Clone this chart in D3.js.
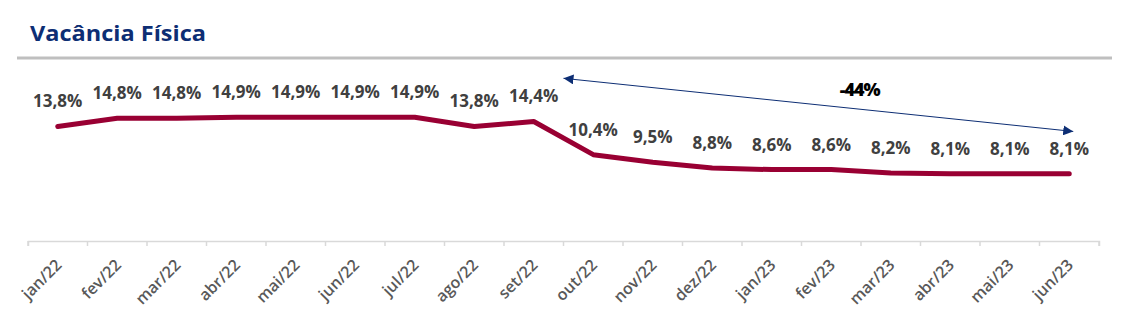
<!DOCTYPE html>
<html lang="pt-BR">
<head>
<meta charset="utf-8">
<script src="https://cdn.jsdelivr.net/npm/d3@7/dist/d3.min.js"></script>
<style>
  html, body { margin: 0; padding: 0; background: #ffffff; }
  svg { display: block; }
</style>
</head>
<body>
<svg id="chart" width="1122" height="323"></svg>
<script>
// Monthly physical vacancy rate (%)
const months = ["jan/22","fev/22","mar/22","abr/22","mai/22","jun/22","jul/22","ago/22","set/22",
                "out/22","nov/22","dez/22","jan/23","fev/23","mar/23","abr/23","mai/23","jun/23"];
const vacancy = [13.8, 14.8, 14.8, 14.9, 14.9, 14.9, 14.9, 13.8, 14.4,
                 10.4, 9.5, 8.8, 8.6, 8.6, 8.2, 8.1, 8.1, 8.1];

// Variation callout between set/22 and jun/23
const changeLabel = "-44%";
const arrowStart = { month: "out/22", value: 19.6 };
const arrowEnd   = { month: "jun/23", value: 13.2 };
const changeAnchor = { month: "mar/23", value: 18.3 };

const svg = d3.select("#chart");

const x = d3.scaleBand().domain(months).range([28, 1099]).paddingInner(0).paddingOuter(0);
const y = d3.scaleLinear().domain([0, 20]).range([241, 75]);
const cx = m => x(m) + x.bandwidth() / 2;

// Title
svg.append("text")
  .attr("x", 30).attr("y", 41)
  .attr("font-family", "'Open Sans', sans-serif")
  .attr("font-weight", 700)
  .attr("font-size", 22)
  .attr("fill", "#0d2e74")
  .attr("textLength", 176)
  .attr("lengthAdjust", "spacingAndGlyphs")
  .text("Vacância Física");

// Separator under the title
svg.append("line")
  .attr("x1", 17).attr("x2", 1112)
  .attr("y1", 58).attr("y2", 58)
  .attr("stroke", "#bfbfbf").attr("stroke-width", 3);

// X axis
const xAxis = d3.axisBottom(x).tickSizeInner(5).tickSizeOuter(5).tickFormat(d => d);
const gx = svg.append("g").attr("transform", "translate(0,241)").call(xAxis);
gx.select(".domain").attr("stroke", "#d9d9d9").attr("stroke-width", 1.5);
gx.selectAll(".tick line")
  .attr("stroke", "#d9d9d9").attr("stroke-width", 1.5)
  .attr("transform", `translate(${-x.bandwidth() / 2},0)`);
gx.selectAll(".tick text")
  .attr("font-family", "'Open Sans', sans-serif")
  .attr("font-weight", 600)
  .attr("font-size", 16)
  .attr("fill", "#595959")
  .attr("text-anchor", "end")
  .attr("dy", null)
  .attr("transform", "translate(5,25) rotate(-45)")
  .attr("y", 0).attr("x", 0);
// closing tick at the right end of the axis
svg.append("line")
  .attr("x1", x.range()[1]).attr("x2", x.range()[1])
  .attr("y1", 241).attr("y2", 246)
  .attr("stroke", "#d9d9d9").attr("stroke-width", 1.5);

// Vacancy line
const line = d3.line()
  .x((d, i) => cx(months[i]))
  .y(d => y(d));
svg.append("path")
  .datum(vacancy)
  .attr("d", line)
  .attr("fill", "none")
  .attr("stroke", "#990033")
  .attr("stroke-width", 5)
  .attr("stroke-linecap", "round")
  .attr("stroke-linejoin", "round");

// Value labels
const fmt = v => v.toFixed(1).replace(".", ",") + "%";
svg.append("g").selectAll("text")
  .data(vacancy)
  .join("text")
  .attr("x", (d, i) => cx(months[i]))
  .attr("y", d => y(d) - 19)
  .attr("text-anchor", "middle")
  .attr("font-family", "'Open Sans', sans-serif")
  .attr("font-weight", 700)
  .attr("font-size", 17)
  .attr("fill", "#404040")
  .text(fmt);

// Variation arrow
const defs = svg.append("defs");
defs.append("marker")
  .attr("id", "head")
  .attr("viewBox", "0 0 10 10")
  .attr("refX", 10).attr("refY", 5)
  .attr("markerWidth", 10).attr("markerHeight", 10)
  .attr("markerUnits", "userSpaceOnUse")
  .attr("orient", "auto-start-reverse")
  .append("path").attr("d", "M0,0 L10,5 L0,10 Z").attr("fill", "#0d2e74");

svg.append("line")
  .attr("x1", x(arrowStart.month)).attr("y1", y(arrowStart.value))
  .attr("x2", cx(arrowEnd.month) + 4).attr("y2", y(arrowEnd.value))
  .attr("stroke", "#0d2e74").attr("stroke-width", 1)
  .attr("marker-start", "url(#head)")
  .attr("marker-end", "url(#head)");

svg.append("text")
  .attr("x", cx(changeAnchor.month) - 31)
  .attr("y", y(changeAnchor.value) + 7)
  .attr("text-anchor", "middle")
  .attr("font-family", "'Open Sans', sans-serif")
  .attr("font-weight", 800)
  .attr("font-size", 18)
  .attr("fill", "#000000")
  .attr("letter-spacing", -1)
  .text(changeLabel);
</script>
</body>
</html>
